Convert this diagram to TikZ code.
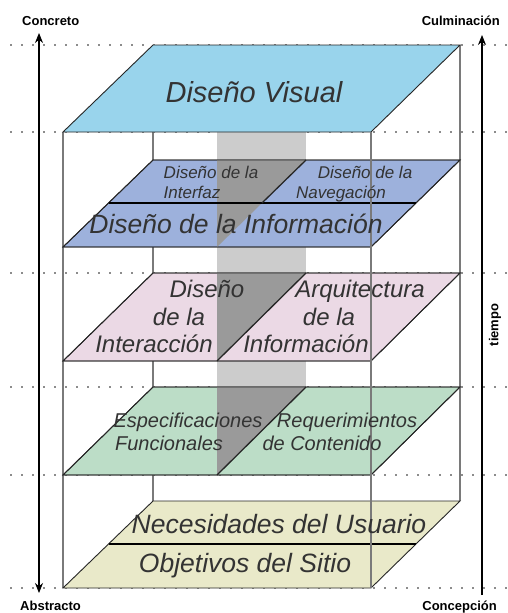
\documentclass[tikz,border=0pt]{standalone}
\usepackage{fontspec}
\setmainfont{Liberation Sans}
\usetikzlibrary{arrows.meta}
\definecolor{visualc}{HTML}{99D4EC}
\definecolor{bluec}{HTML}{9DB1DC}
\definecolor{pinkc}{HTML}{EBD9E5}
\definecolor{greenc}{HTML}{BCDDC7}
\definecolor{yellowc}{HTML}{E9E9C9}
\definecolor{lightcol}{HTML}{CCCCCC}
\definecolor{darkcol}{HTML}{9A9A9A}
\definecolor{framec}{HTML}{7A7A7A}
\definecolor{dotc}{HTML}{8C8C8C}
\definecolor{txtc}{HTML}{333333}
\begin{document}
\begin{tikzpicture}[x=1pt,y=-1pt,
  dotline/.style={dotc,line width=2pt,dash pattern=on 2pt off 9pt},
  framel/.style={framec,line width=1.2pt},
  plane/.style={draw=black!85,line width=0.9pt},
  sep/.style={black,line width=1.8pt},
  divl/.style={black!85,line width=1.3pt},
  ptxt/.style={anchor=base,inner sep=0pt,text=txtc,font=\itshape},
  side/.style={inner sep=0pt,font=\bfseries\fontsize{13}{15}\selectfont},
  axis/.style={black,line width=1.1pt},
]
\useasboundingbox (0,0) rectangle (507,613);
\fill[white] (0,0) rectangle (507,613);
% dotted level lines
\foreach \yy in {45,132,273,387,475,588} \draw[dotline] (10,\yy) -- (507,\yy);
% grey column
\fill[lightcol] (217,132) rectangle (306,387);
% back frame lines
\draw[framel] (153,45) -- (153,501);
\draw[framel] (460,45) -- (460,501);
\draw[framel] (63,132) -- (63,588);
% top plane
\draw[plane,fill=visualc] (153,45) -- (460,45) -- (371,132) -- (63,132) -- cycle;
% blue plane
\draw[plane,fill=bluec] (153,160) -- (460,160) -- (371,247) -- (63,247) -- cycle;
\fill[darkcol] (217,160) -- (306,160) -- (217,247) -- cycle;
\draw[plane] (153,160) -- (460,160) -- (371,247) -- (63,247) -- cycle;
\draw[sep] (108.5,203) -- (415.5,203);
\draw[divl] (306,160) -- (262,203);
% pink plane
\draw[plane,fill=pinkc] (153,273) -- (460,273) -- (371,361) -- (63,361) -- cycle;
\fill[darkcol] (217,273) -- (306,273) -- (217,361) -- cycle;
\draw[plane] (153,273) -- (460,273) -- (371,361) -- (63,361) -- cycle;
\draw[divl] (306,273) -- (217,361);
% green plane
\draw[plane,fill=greenc] (153,387) -- (460,387) -- (371,475) -- (63,475) -- cycle;
\fill[darkcol] (217,387) -- (306,387) -- (217,475) -- cycle;
\draw[plane] (153,387) -- (460,387) -- (371,475) -- (63,475) -- cycle;
\draw[divl] (306,387) -- (217,475);
% yellow plane
\draw[plane,fill=yellowc] (153,501) -- (460,501) -- (371,588) -- (63,588) -- cycle;
\draw[sep] (108.5,544) -- (415.5,544);
% front right frame line
\draw[framel] (371,132) -- (371,588);
% texts
\node[ptxt,font=\itshape\fontsize{29}{31}\selectfont] (vis) at (254,102) {Diseño Visual};
\node[ptxt,font=\itshape\fontsize{17}{19}\selectfont] (int1) at (211,178) {Diseño de la};
\node[ptxt,font=\itshape\fontsize{17}{19}\selectfont] (int2) at (192,198) {Interfaz};
\node[ptxt,font=\itshape\fontsize{17}{19}\selectfont] (nav1) at (365,178) {Diseño de la};
\node[ptxt,font=\itshape\fontsize{17}{19}\selectfont] (nav2) at (341,198) {Navegación};
\node[ptxt,font=\itshape\fontsize{26.5}{28}\selectfont] (info) at (236,233) {Diseño de la Información};
\node[ptxt,font=\itshape\fontsize{24}{26}\selectfont] (di1) at (207,297) {Diseño};
\node[ptxt,font=\itshape\fontsize{24}{26}\selectfont] (di2) at (179,325) {de la};
\node[ptxt,font=\itshape\fontsize{24}{26}\selectfont] (di3) at (154,352) {Interacción};
\node[ptxt,font=\itshape\fontsize{24}{26}\selectfont] (ai1) at (360,297) {Arquitectura};
\node[ptxt,font=\itshape\fontsize{24}{26}\selectfont] (ai2) at (329,325) {de la};
\node[ptxt,font=\itshape\fontsize{24}{26}\selectfont] (ai3) at (306,352) {Información};
\node[ptxt,font=\itshape\fontsize{20}{22}\selectfont] (ef1) at (188,427) {Especificaciones};
\node[ptxt,font=\itshape\fontsize{20}{22}\selectfont] (ef2) at (169,450) {Funcionales};
\node[ptxt,font=\itshape\fontsize{20}{22}\selectfont] (rc1) at (347,427) {Requerimientos};
\node[ptxt,font=\itshape\fontsize{20}{22}\selectfont] (rc2) at (322,450) {de Contenido};
\node[ptxt,font=\itshape\fontsize{26.5}{28}\selectfont] (nec) at (279,533) {Necesidades del Usuario};
\node[ptxt,font=\itshape\fontsize{26.5}{28}\selectfont] (obj) at (245,572) {Objetivos del Sitio};
% side labels
\node[side,anchor=base west] (concreto) at (22,25) {Concreto};
\node[side,anchor=base east] (culm) at (500,25) {Culminación};
\node[side,anchor=base west] (abst) at (20,610) {Abstracto};
\node[side,anchor=base east] (conc) at (497,610) {Concepción};
\node[side,rotate=90] (tiempo) at (495,325) {tiempo};
% axes
\coordinate (lt) at (39,33);
\coordinate (lb) at (39,593);
\coordinate (rt) at (482,35);
\coordinate (rb) at (482,595);
\draw[axis,{Stealth[length=10pt,width=8pt]}-{Stealth[length=10pt,width=8pt]}] (lt) -- (lb);
\draw[axis,-{Stealth[length=10pt,width=8pt]}] (rb) -- (rt);
\end{tikzpicture}
\end{document}
